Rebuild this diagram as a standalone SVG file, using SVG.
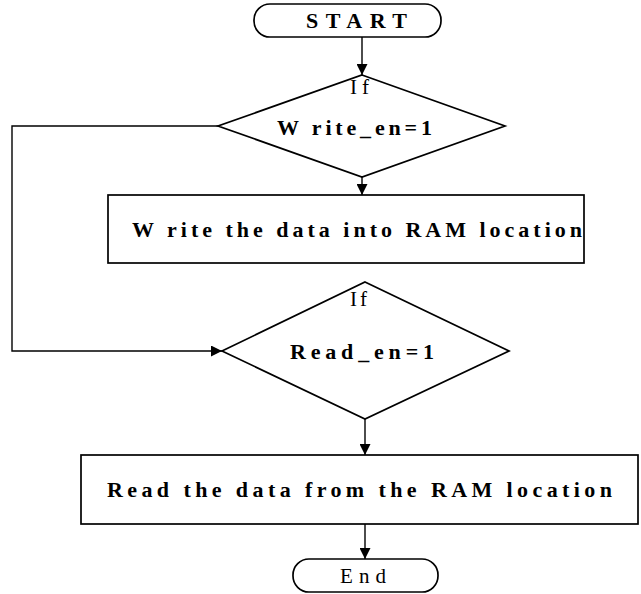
<svg xmlns="http://www.w3.org/2000/svg" width="641" height="594" viewBox="0 0 641 594">
  <style>
    .shape { fill: #fff; stroke: #000; stroke-width: 1.7; }
    .edge { fill: none; stroke: #000; stroke-width: 1.4; }
    .bold { font-family: "Liberation Serif", "Times New Roman", serif; font-weight: bold; fill: #000; }
    .reg { font-family: "Liberation Serif", "Times New Roman", serif; fill: #000; }
  </style>
  <defs>
    <marker id="arrow" viewBox="0 0 10 10" refX="10" refY="5" markerWidth="11" markerHeight="11" markerUnits="userSpaceOnUse" orient="auto">
      <path d="M0,0 L10,5 L0,10 Z" fill="#000"/>
    </marker>
  </defs>
  <rect width="641" height="594" fill="#fff"/>

  <g id="connectors">
    <line class="edge" x1="362" y1="37" x2="362" y2="75" marker-end="url(#arrow)"/>
    <line class="edge" x1="362" y1="177" x2="362" y2="195" marker-end="url(#arrow)"/>
    <polyline class="edge" points="218,126 12,126 12,351 222,351" marker-end="url(#arrow)"/>
    <line class="edge" x1="365" y1="419" x2="365" y2="455" marker-end="url(#arrow)"/>
    <line class="edge" x1="365" y1="524" x2="365" y2="559" marker-end="url(#arrow)"/>
  </g>

  <g id="start">
    <rect class="shape" x="254" y="4" width="187" height="33" rx="16" ry="16"/>
    <text class="bold" x="306" y="28" font-size="22" textLength="101" lengthAdjust="spacing">START</text>
  </g>

  <g id="decision-write">
    <polygon class="shape" points="362,75 505,126 362,177 218,126"/>
    <text class="reg" x="350" y="94" font-size="21" textLength="19" lengthAdjust="spacing">If</text>
    <text class="bold" x="277" y="135" font-size="22" textLength="155" lengthAdjust="spacing">W rite_en=1</text>
  </g>

  <g id="write-ram">
    <rect class="shape" x="108" y="195" width="476" height="68"/>
    <text class="bold" x="132" y="237" font-size="22" textLength="450" lengthAdjust="spacing">W rite the data into RAM location</text>
  </g>

  <g id="decision-read">
    <polygon class="shape" points="365,282 509,351 365,419 222,351"/>
    <text class="reg" x="350" y="306" font-size="21" textLength="17" lengthAdjust="spacing">If</text>
    <text class="bold" x="290" y="359" font-size="22" textLength="144" lengthAdjust="spacing">Read_en=1</text>
  </g>

  <g id="read-ram">
    <rect class="shape" x="81" y="455" width="557" height="69"/>
    <text class="bold" x="107" y="497" font-size="22" textLength="505" lengthAdjust="spacing">Read the data from the RAM location</text>
  </g>

  <g id="end">
    <rect class="shape" x="293" y="559" width="145" height="33" rx="16" ry="16"/>
    <text class="reg" x="340" y="583" font-size="21" textLength="46" lengthAdjust="spacing">End</text>
  </g>
</svg>
